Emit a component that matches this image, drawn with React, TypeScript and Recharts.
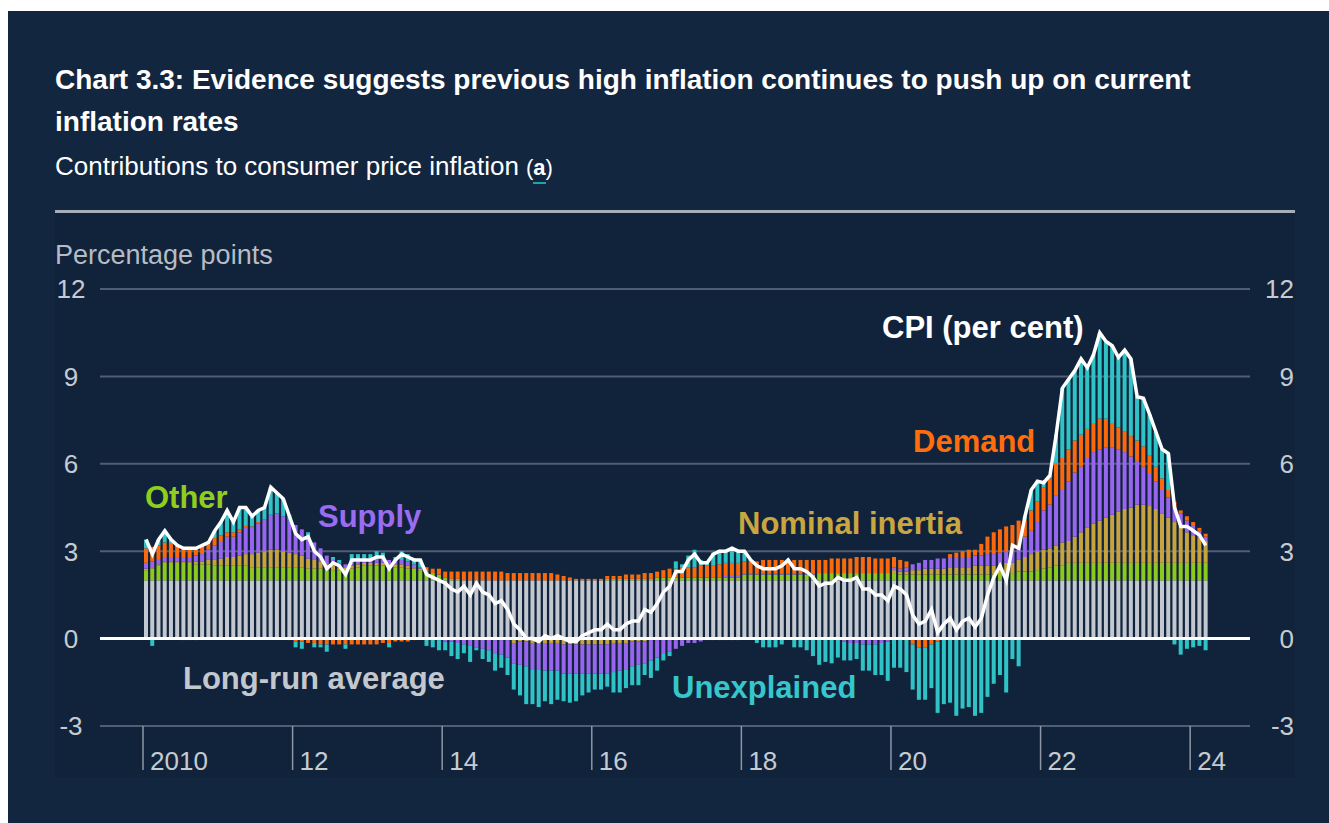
import React from "react"
import {
  ComposedChart,
  Bar,
  Line,
  XAxis,
  YAxis,
  CartesianGrid,
  ReferenceLine,
} from "recharts"

// monthly, Jan 2010 .. Mar 2024
const LONG_RUN_AVERAGE = 2

const cpi = [
  3.4, 2.9, 3.4, 3.7, 3.4, 3.2, 3.1, 3.1, 3.1, 3.2, 3.3, 3.7, // 2010
  4.0, 4.4, 4.0, 4.5, 4.5, 4.2, 4.4, 4.5, 5.2, 5.0, 4.8, 4.2, // 2011
  3.6, 3.4, 3.5, 3.0, 2.8, 2.4, 2.6, 2.5, 2.2, 2.7, 2.7, 2.7, // 2012
  2.7, 2.8, 2.8, 2.4, 2.7, 2.9, 2.8, 2.7, 2.7, 2.2, 2.1, 2.0, // 2013
  1.9, 1.7, 1.6, 1.8, 1.5, 1.9, 1.6, 1.5, 1.2, 1.3, 1.0, 0.5, // 2014
  0.3, 0.0, 0.0, -0.1, 0.1, 0.0, 0.1, 0.0, -0.1, -0.1, 0.1, 0.2, // 2015
  0.3, 0.3, 0.5, 0.3, 0.3, 0.5, 0.6, 0.6, 1.0, 0.9, 1.2, 1.6, // 2016
  1.8, 2.3, 2.3, 2.7, 2.9, 2.6, 2.6, 2.9, 3.0, 3.0, 3.1, 3.0, // 2017
  3.0, 2.7, 2.5, 2.4, 2.4, 2.4, 2.5, 2.7, 2.4, 2.4, 2.3, 2.1, // 2018
  1.8, 1.9, 1.9, 2.1, 2.0, 2.0, 2.1, 1.7, 1.7, 1.5, 1.5, 1.3, // 2019
  1.8, 1.7, 1.5, 0.8, 0.5, 0.6, 1.0, 0.2, 0.5, 0.7, 0.3, 0.6, // 2020
  0.7, 0.4, 0.7, 1.5, 2.1, 2.5, 2.0, 3.2, 3.1, 4.2, 5.1, 5.4, // 2021
  5.35, 5.6, 7.0, 8.6, 8.9, 9.2, 9.6, 9.3, 9.75, 10.5, 10.2, 10.05, // 2022
  9.65, 9.9, 9.6, 8.3, 8.25, 7.7, 7.1, 6.5, 6.35, 4.5, 3.85, 3.85, // 2023
  3.7, 3.55, 3.2, // 2024
]

const other = [
  0.35, 0.4, 0.5, 0.6, 0.6, 0.6, 0.6, 0.6, 0.55, 0.55, 0.55, 0.5,
  0.5, 0.5, 0.5, 0.5, 0.5, 0.45, 0.45, 0.45, 0.45, 0.45, 0.45, 0.45,
  0.45, 0.45, 0.4, 0.4, 0.4, 0.35, 0.35, 0.35, 0.35, 0.4, 0.45, 0.5,
  0.5, 0.5, 0.5, 0.45, 0.45, 0.45, 0.4, 0.4, 0.35, 0.3, 0.25, 0.2,
  0.1, 0.05, 0.05, 0, 0, 0, 0, 0, 0, 0, 0, -0.05,
  0, 0, 0, 0, 0, 0, 0, 0, 0, 0, 0, 0,
  0, 0, 0.05, 0.05, 0.05, 0.05, 0.05, 0.05, 0.05, 0.05, 0.1, 0.1,
  0.1, 0.1, 0.1, 0.1, 0.1, 0.1, 0.1, 0.1, 0.1, 0.1, 0.1, 0.1,
  0.2, 0.2, 0.2, 0.2, 0.2, 0.2, 0.2, 0.2, 0.2, 0.2, 0.2, 0.2,
  0.25, 0.25, 0.25, 0.25, 0.25, 0.25, 0.25, 0.25, 0.25, 0.25, 0.25, 0.25,
  0.25, 0.2, 0.2, 0.2, 0.2, 0.2, 0.2, 0.2, 0.2, 0.2, 0.2, 0.2,
  0.2, 0.2, 0.2, 0.2, 0.2, 0.25, 0.25, 0.25, 0.3, 0.3, 0.3, 0.35,
  0.4, 0.45, 0.5, 0.5, 0.6, 0.6, 0.6, 0.6, 0.6, 0.6, 0.6, 0.6,
  0.6, 0.6, 0.6, 0.6, 0.6, 0.6, 0.6, 0.6, 0.6, 0.6, 0.6, 0.6,
  0.6, 0.6, 0.6,
]

const nominalInertia = [
  0.05, 0.05, 0.05, 0.05, 0.05, 0.05, 0.05, 0.05, 0.1, 0.1, 0.15, 0.2,
  0.25, 0.3, 0.3, 0.35, 0.4, 0.45, 0.5, 0.55, 0.6, 0.6, 0.55, 0.5,
  0.45, 0.4, 0.35, 0.3, 0.25, 0.2, 0.15, 0.1, 0.1, 0.1, 0.1, 0.1,
  0.1, 0.1, 0.1, 0.1, 0.1, 0.1, 0.1, 0.05, 0.05, 0.05, 0, 0,
  0, 0, 0, 0, 0, 0, 0, 0, -0.05, -0.05, -0.05, -0.1,
  -0.1, -0.1, -0.15, -0.15, -0.15, -0.15, -0.15, -0.2, -0.2, -0.2, -0.2, -0.2,
  -0.2, -0.2, -0.2, -0.15, -0.15, -0.15, -0.1, -0.1, -0.1, -0.05, -0.05, 0,
  -0.05, -0.05, -0.05, -0.05, -0.05, -0.05, -0.05, -0.05, -0.05, -0.05, -0.05, -0.05,
  0, 0, 0, 0, 0, 0, 0, 0, 0, 0, 0, 0,
  0, 0, 0, 0, -0.05, -0.05, -0.05, -0.05, -0.05, -0.05, -0.05, -0.05,
  0.1, 0.1, 0.1, 0.15, 0.15, 0.2, 0.2, 0.2, 0.2, 0.25, 0.25, 0.25,
  0.25, 0.3, 0.3, 0.3, 0.3, 0.3, 0.35, 0.35, 0.4, 0.5, 0.6, 0.65,
  0.65, 0.65, 0.7, 0.8, 0.75, 0.9, 1.05, 1.2, 1.35, 1.45, 1.55, 1.65,
  1.75, 1.85, 1.9, 2.0, 2.0, 1.95, 1.85, 1.7, 1.55, 1.4, 1.25, 1.05,
  0.95, 0.85, 0.75,
]

const supply = [
  0.2, 0.2, 0.15, 0.15, 0.15, 0.15, 0.15, 0.15, 0.2, 0.25, 0.35, 0.5,
  0.6, 0.7, 0.7, 0.8, 0.9, 0.9, 1.0, 1.1, 1.2, 1.25, 1.2, 1.1,
  1.0, 0.9, 0.8, 0.6, 0.45, 0.3, 0.2, 0.15, 0.1, 0.1, 0.1, 0.1,
  0.1, 0.15, 0.15, 0.15, 0.15, 0.15, 0.15, 0.1, 0.05, 0, 0, -0.05,
  -0.1, -0.1, -0.15, -0.2, -0.25, -0.3, -0.35, -0.4, -0.45, -0.5, -0.6, -0.7,
  -0.8, -0.85, -0.9, -0.9, -0.95, -0.95, -0.95, -1.0, -1.0, -1.0, -1.0, -1.0,
  -1.0, -1.0, -1.0, -1.0, -0.95, -0.9, -0.85, -0.8, -0.75, -0.7, -0.6, -0.5,
  -0.4, -0.3, -0.2, -0.1, -0.1, -0.05, 0, 0, 0, 0.05, 0.05, 0.05,
  0.05, 0.05, 0.05, 0.05, 0.05, 0.05, 0.05, 0.05, 0.05, 0.05, 0.05, 0.05,
  0, 0, 0, 0, -0.05, -0.1, -0.1, -0.15, -0.15, -0.15, -0.1, -0.05,
  0.1, 0.1, 0.15, 0.2, 0.25, 0.3, 0.3, 0.35, 0.35, 0.35, 0.35, 0.35,
  0.35, 0.35, 0.35, 0.4, 0.4, 0.4, 0.4, 0.45, 0.5, 0.7, 0.8, 1.0,
  1.35, 1.5, 1.7, 1.8, 2.05, 2.2, 2.25, 2.4, 2.45, 2.45, 2.4, 2.3,
  2.15, 1.95, 1.75, 1.5, 1.3, 1.1, 0.95, 0.8, 0.7, 0.5, 0.45, 0.4,
  0.35, 0.25, 0.15,
]

const demand = [
  0.5, 0.5, 0.5, 0.5, 0.45, 0.4, 0.35, 0.35, 0.3, 0.3, 0.25, 0.25,
  0.2, 0.15, 0.15, 0.1, 0.1, 0.05, 0.05, 0, 0, 0, 0, -0.05,
  -0.1, -0.1, -0.15, -0.15, -0.2, -0.2, -0.2, -0.2, -0.2, -0.2, -0.2, -0.2,
  -0.2, -0.2, -0.15, -0.15, -0.1, -0.1, -0.1, -0.05, 0, 0.1, 0.15, 0.2,
  0.2, 0.25, 0.25, 0.3, 0.3, 0.3, 0.3, 0.3, 0.3, 0.3, 0.25, 0.25,
  0.25, 0.25, 0.25, 0.25, 0.25, 0.25, 0.2, 0.15, 0.1, 0.05, 0.05, 0.05,
  0.05, 0.05, 0.1, 0.1, 0.1, 0.15, 0.15, 0.15, 0.2, 0.2, 0.2, 0.25,
  0.3, 0.3, 0.35, 0.35, 0.35, 0.4, 0.4, 0.4, 0.45, 0.45, 0.45, 0.45,
  0.4, 0.4, 0.4, 0.45, 0.45, 0.45, 0.45, 0.45, 0.45, 0.45, 0.45, 0.45,
  0.45, 0.45, 0.5, 0.5, 0.5, 0.5, 0.55, 0.55, 0.55, 0.5, 0.5, 0.5,
  0.35, 0.3, 0.2, -0.2, -0.3, -0.3, -0.2, -0.1, 0, 0.1, 0.15, 0.2,
  0.25, 0.2, 0.4, 0.6, 0.75, 0.8, 0.85, 0.85, 0.85, 0.6, 0.7, 0.7,
  0.8, 0.9, 1.1, 1.1, 1.1, 1.1, 1.1, 1.0, 1.0, 1.05, 1.0, 0.85,
  0.75, 0.7, 0.7, 0.7, 0.7, 0.65, 0.5, 0.4, 0.25, 0.2, 0.1, 0.15,
  0.1, 0.1, 0.1,
]

const unexplained = [
  0.3, -0.25, 0.2, 0.4, 0.15, 0, -0.05, -0.05, -0.05, 0, 0, 0.25,
  0.45, 0.75, 0.35, 0.75, 0.6, 0.35, 0.4, 0.4, 0.95, 0.7, 0.6, 0.2,
  -0.2, -0.25, 0.1, -0.15, -0.1, -0.25, 0.1, 0.1, -0.15, 0.3, 0.25, 0.2,
  0.2, 0.25, 0.2, -0.15, 0.1, 0.3, 0.25, 0.2, 0.25, -0.25, -0.3, -0.35,
  -0.3, -0.5, -0.55, -0.3, -0.55, -0.1, -0.35, -0.4, -0.6, -0.45, -0.6, -0.9,
  -1.05, -1.3, -1.2, -1.3, -1.05, -1.15, -1.0, -0.95, -1.0, -0.95, -0.75, -0.65,
  -0.55, -0.55, -0.45, -0.7, -0.75, -0.65, -0.65, -0.7, -0.4, -0.6, -0.45, -0.25,
  -0.15, 0.25, 0.1, 0.4, 0.6, 0.2, 0.15, 0.45, 0.5, 0.45, 0.55, 0.45,
  0.35, 0.05, -0.15, -0.3, -0.3, -0.3, -0.2, 0, -0.3, -0.3, -0.4, -0.6,
  -0.9, -0.8, -0.85, -0.65, -0.65, -0.6, -0.55, -0.9, -0.9, -1.05, -1.1, -1.35,
  -1.0, -1.0, -1.15, -1.55, -1.8, -1.8, -1.5, -2.45, -2.25, -2.2, -2.65, -2.4,
  -2.35, -2.65, -2.55, -2.0, -1.55, -1.25, -1.85, -0.7, -0.95, 0.1, 0.7, 0.7,
  0.15, 0.1, 1.0, 2.4, 2.4, 2.4, 2.6, 2.1, 2.35, 2.95, 2.65, 2.65,
  2.4, 2.8, 2.65, 1.5, 1.65, 1.4, 1.2, 1.0, 1.25, -0.2, -0.55, -0.35,
  -0.3, -0.25, -0.4,
]

const xTickLabels = ["2010", "12", "14", "16", "18", "20", "22", "24"]
const xTickValues = [-0.5, 23.5, 47.5, 71.5, 95.5, 119.5, 143.5, 167.5]
const yTicks = [-3, 0, 3, 6, 9, 12]

const data = cpi.map((value, i) => ({
  t: i,
  longRun: LONG_RUN_AVERAGE,
  other: other[i],
  inertia: nominalInertia[i],
  supply: supply[i],
  demand: demand[i],
  unexplained: unexplained[i],
  cpi: value,
}))

const FONT = "'Liberation Sans', Arial, Helvetica, sans-serif"
const PANEL_BG = "#13263f"
const PLOT_BG = "#11233b"
const TICK_COLOR = "#c6cbd2"

const CHART_W = 1240
const CHART_H = 564
const PLOT_BOTTOM = 513

const YTick = ({ y, payload }: any) => (
  <g>
    <text x={16} y={y} dy="0.36em" textAnchor="middle" fontSize={26} fill={TICK_COLOR} fontFamily={FONT}>
      {payload.value}
    </text>
    <text x={1239} y={y} dy="0.36em" textAnchor="end" fontSize={26} fill={TICK_COLOR} fontFamily={FONT}>
      {payload.value}
    </text>
  </g>
)

const XTick = ({ x, payload }: any) => {
  const idx = xTickValues.indexOf(payload.value)
  return (
    <g>
      <line x1={x} x2={x} y1={PLOT_BOTTOM} y2={PLOT_BOTTOM + 44} stroke="#8d97a5" strokeWidth={1.5} />
      <text x={x + 7} y={PLOT_BOTTOM + 44} fontSize={26} fill={TICK_COLOR} fontFamily={FONT}>
        {xTickLabels[idx]}
      </text>
    </g>
  )
}

const seriesLabels = [
  { text: "CPI (per cent)", x: 874, y: 327, color: "#ffffff" },
  { text: "Demand", x: 905, y: 441, color: "#ff6d0d" },
  { text: "Other", x: 137, y: 497, color: "#8fce1e" },
  { text: "Supply", x: 310, y: 516, color: "#9b6cf0" },
  { text: "Nominal inertia", x: 730, y: 523, color: "#c9a63f" },
  { text: "Long-run average", x: 175, y: 678, color: "#c3c8cf" },
  { text: "Unexplained", x: 664, y: 687, color: "#35c7cb" },
]

export default function App() {
  return (
    <div
      style={{
        position: "absolute",
        left: 8,
        top: 11,
        width: 1321,
        height: 812,
        background: PANEL_BG,
        fontFamily: FONT,
        overflow: "hidden",
      }}
    >
      <div style={{ position: "absolute", left: 47, top: 202, width: CHART_W, height: CHART_H, background: PLOT_BG }}>
        <ComposedChart
          width={CHART_W}
          height={CHART_H}
          data={data}
          stackOffset="sign"
          margin={{ top: 76, right: 45, bottom: 0, left: 0 }}
        >
          <CartesianGrid horizontal vertical={false} stroke="#4f5e73" strokeWidth={2} />
          <XAxis
            dataKey="t"
            type="number"
            domain={[-7.4, 177.1]}
            ticks={xTickValues}
            interval={0}
            height={51}
            axisLine={false}
            tickLine={false}
            tick={<XTick />}
          />
          <YAxis
            domain={[-3, 12]}
            ticks={yTicks}
            interval={0}
            width={45}
            axisLine={false}
            tickLine={false}
            tick={<YTick />}
          />
          <Bar dataKey="longRun" stackId="a" fill="#c3c8d0" barSize={4} isAnimationActive={false} />
          <Bar dataKey="other" stackId="a" fill="#8cc81e" barSize={4} isAnimationActive={false} />
          <Bar dataKey="inertia" stackId="a" fill="#c6a33e" barSize={4} isAnimationActive={false} />
          <Bar dataKey="supply" stackId="a" fill="#9866ee" barSize={4} isAnimationActive={false} />
          <Bar dataKey="demand" stackId="a" fill="#fa690c" barSize={4} isAnimationActive={false} />
          <Bar dataKey="unexplained" stackId="a" fill="#2fc3c6" barSize={4} isAnimationActive={false} />
          <ReferenceLine y={0} stroke="#ffffff" strokeWidth={3} />
          <Line
            dataKey="cpi"
            type="linear"
            stroke="#ffffff"
            strokeWidth={3.5}
            dot={false}
            isAnimationActive={false}
          />
        </ComposedChart>
      </div>

      <svg
        width={1321}
        height={812}
        style={{ position: "absolute", left: 0, top: 0, pointerEvents: "none" }}
        fontFamily={FONT}
      >
        <text x={47} y={78} fontSize={28} fontWeight="bold" fill="#ffffff">
          Chart 3.3: Evidence suggests previous high inflation continues to push up on current
        </text>
        <text x={47} y={120} fontSize={28} fontWeight="bold" fill="#ffffff">
          inflation rates
        </text>
        <text x={47} y={164} fontSize={26} fill="#ffffff">
          Contributions to consumer price inflation
        </text>
        <text x={518} y={164} fontSize={22} fill="#ffffff">
          (<tspan fontWeight="bold">a</tspan>)
        </text>
        <rect x={525} y={171} width={13} height={2} fill="#1fa5a5" />
        <rect x={47} y={199} width={1240} height={3} fill="#a5adb8" />
        <text x={47} y={253} fontSize={27} fill="#b7bcc4">
          Percentage points
        </text>
        {seriesLabels.map((l) => (
          <text key={l.text} x={l.x} y={l.y} fontSize={31} fontWeight="bold" fill={l.color}>
            {l.text}
          </text>
        ))}
      </svg>
    </div>
  )
}
